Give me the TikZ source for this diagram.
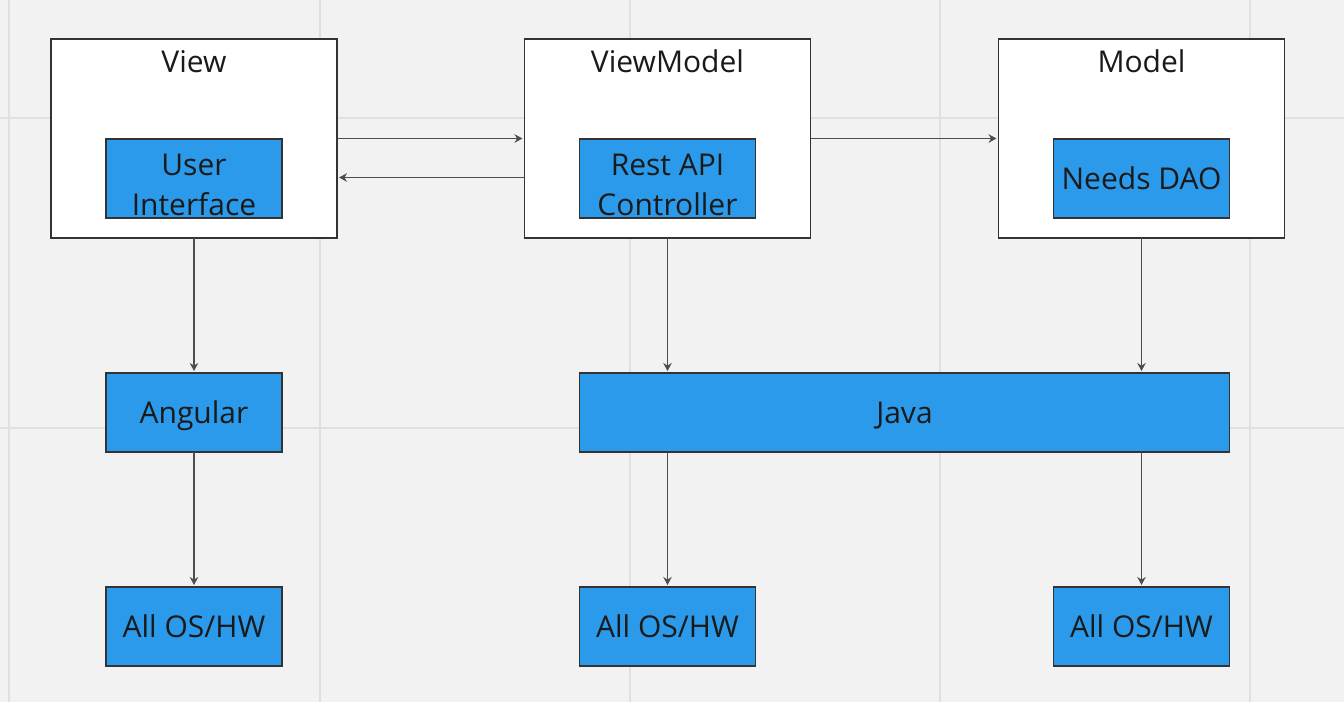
\documentclass[tikz,border=0pt]{standalone}
\usepackage{fontspec}
\setmainfont{Open Sans}
\usepackage{tikz}
\usetikzlibrary{arrows.meta}
\usetikzlibrary{positioning}

\definecolor{boardgrey}{HTML}{F2F2F2}
\definecolor{gridgrey}{HTML}{E0E0E0}
\definecolor{boxblue}{HTML}{2B9AEB}
\definecolor{edgegrey}{HTML}{333333}
\definecolor{linegrey}{HTML}{4D4D4D}
\definecolor{inkblack}{HTML}{1A1A1A}

\begin{document}
\begin{tikzpicture}[x=1pt, y=-1pt,
    outerbox/.style={rectangle, draw=edgegrey, line width=1.3pt, fill=white, minimum width=286pt, minimum height=199pt, inner sep=0pt, outer sep=0pt},
    bluebox/.style={rectangle, align=center, draw=edgegrey, line width=1.3pt, fill=boxblue, minimum width=176pt, minimum height=79pt, inner sep=0pt, outer sep=0pt, text height=28pt, text depth=7pt, text=inkblack, font=\fontsize{30}{40}\selectfont},
    twolines/.style={text height=73pt, text depth=0pt},
    titletext/.style={anchor=north, inner sep=0pt, yshift=-11.5pt, text height=21.5pt, text depth=7pt, text=inkblack, font=\fontsize{30}{36}\selectfont},
    flowline/.style={draw=linegrey, line width=1.3pt, -{Stealth[length=8pt, width=8.5pt]}, shorten >=2pt},
    ]

    %Board
    \fill[boardgrey] (0,0) rectangle (1344,702);
    \useasboundingbox (0,0) rectangle (1344,702);
    \foreach \gx in {9,320,630,940,1250}
        \draw[gridgrey, line width=2pt] (\gx,0) -- (\gx,702);
    \foreach \gy in {118,428}
        \draw[gridgrey, line width=2pt] (0,\gy) -- (1344,\gy);

    %Nodes
    \node[outerbox, label={[titletext]north:View}] (view) at (194,138.5) {};
    \node[outerbox, label={[titletext]north:ViewModel}] (viewmodel) [right=187.5pt of view] {};
    \node[outerbox, label={[titletext]north:Model}] (model) [right=188pt of viewmodel] {};

    \node[bluebox, twolines] (userinterface) [below=100pt of view.north]      {User\\Interface};
    \node[bluebox, twolines] (restapi)       [below=100pt of viewmodel.north] {Rest API\\Controller};
    \node[bluebox]           (needsdao)      [below=100pt of model.north]     {Needs DAO};

    \node[bluebox] (angular)       [below=135pt of view.south]      {Angular};
    \node[bluebox, minimum width=650pt, anchor=north west] (java) at (restapi.west |- angular.north) {Java};

    \node[bluebox] (osview)        [below=135pt of angular.south]   {All OS/HW};
    \node[bluebox] (osviewmodel) at (restapi |- osview)             {All OS/HW};
    \node[bluebox] (osmodel)     at (needsdao |- osview)            {All OS/HW};

    %Lines
    \draw[flowline] (view.east) -- (viewmodel.west);
    \draw[flowline] ([yshift=-39pt]viewmodel.west) -- ([yshift=-39pt]view.east);
    \draw[flowline] (viewmodel.east) -- (model.west);
    \draw[flowline] (view.south) -- (angular.north);
    \draw[flowline] (angular.south) -- (osview.north);
    \draw[flowline] (viewmodel.south) -- (viewmodel.south |- java.north);
    \draw[flowline] (model.south) -- (model.south |- java.north);
    \draw[flowline] (restapi |- java.south) -- (osviewmodel.north);
    \draw[flowline] (needsdao |- java.south) -- (osmodel.north);

\end{tikzpicture}
\end{document}
